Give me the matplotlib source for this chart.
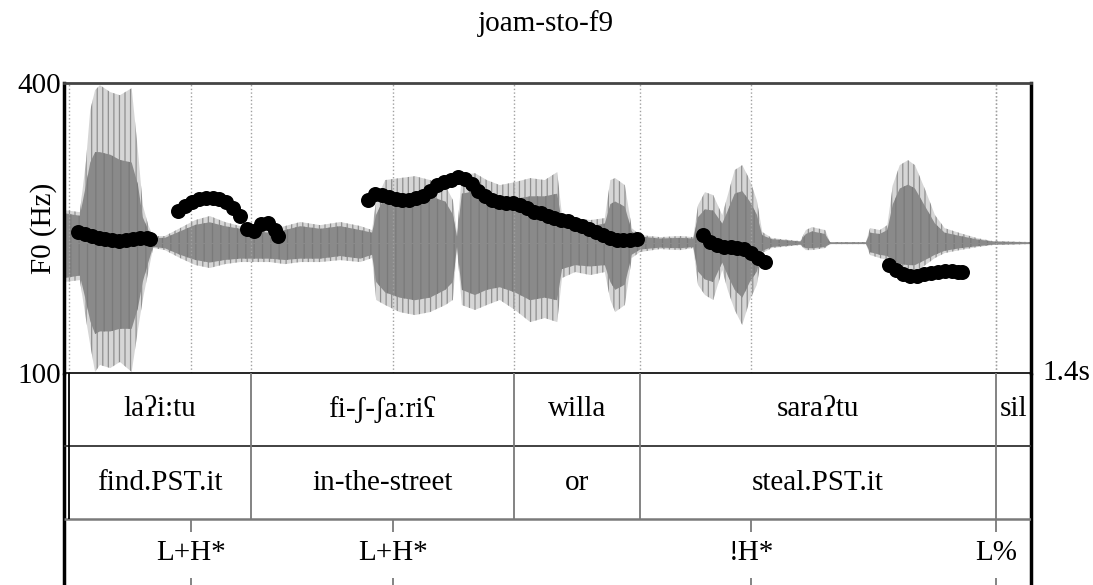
import matplotlib
matplotlib.use('Agg')
import matplotlib.pyplot as plt

plt.rcParams['font.family'] = ['Liberation Serif', 'DejaVu Serif']
plt.rcParams['hatch.linewidth'] = 0.9

W, H = 1093, 585

title = 'joam-sto-f9'
t_end = 1.4
f0_range = (100, 400)

# waveform envelope (relative amplitude)
wave_t = [0.000, 0.023, 0.032, 0.038, 0.045, 0.052, 0.067, 0.081, 0.098, 0.107,
          0.114, 0.122, 0.129, 0.146, 0.168, 0.190, 0.211, 0.233, 0.255, 0.277,
          0.298, 0.320, 0.342, 0.371, 0.400, 0.429, 0.446, 0.452, 0.465, 0.486,
          0.508, 0.530, 0.552, 0.563, 0.569, 0.576, 0.595, 0.612, 0.631, 0.653,
          0.675, 0.696, 0.714, 0.721, 0.740, 0.762, 0.783, 0.791, 0.798, 0.812,
          0.822, 0.834, 0.863, 0.892, 0.911, 0.918, 0.928, 0.940, 0.953, 0.961,
          0.971, 0.982, 0.993, 1.003, 1.011, 1.025, 1.066, 1.074, 1.083, 1.102,
          1.109, 1.161, 1.167, 1.181, 1.192, 1.200, 1.210, 1.222, 1.232, 1.247,
          1.261, 1.275, 1.297, 1.322, 1.345, 1.400]
wave_top = [0.254, 0.238, 0.638, 1.023, 1.177, 1.215, 1.162, 1.138, 1.192, 0.715,
            0.292, 0.138, 0.054, 0.054, 0.115, 0.177, 0.208, 0.162, 0.131, 0.115,
            0.100, 0.131, 0.162, 0.138, 0.162, 0.131, 0.100, 0.331, 0.485, 0.500,
            0.515, 0.485, 0.446, 0.331, 0.077, 0.523, 0.538, 0.485, 0.446, 0.469,
            0.500, 0.485, 0.546, 0.215, 0.192, 0.177, 0.192, 0.485, 0.500, 0.446,
            0.115, 0.062, 0.046, 0.054, 0.046, 0.292, 0.392, 0.369, 0.215, 0.369,
            0.562, 0.600, 0.485, 0.331, 0.085, 0.038, 0.015, 0.100, 0.123, 0.100,
            0.008, 0.008, 0.115, 0.100, 0.138, 0.446, 0.600, 0.638, 0.600, 0.408,
            0.215, 0.115, 0.077, 0.038, 0.015, 0.008]
wave_bot = [-0.300, -0.285, -0.592, -0.785, -0.992, -0.938, -0.962, -0.915, -0.992, -0.669,
            -0.438, -0.223, -0.038, -0.054, -0.115, -0.169, -0.192, -0.162, -0.146, -0.146,
            -0.146, -0.162, -0.146, -0.146, -0.131, -0.146, -0.115, -0.438, -0.477, -0.531,
            -0.554, -0.531, -0.477, -0.438, -0.038, -0.477, -0.515, -0.477, -0.438, -0.515,
            -0.608, -0.577, -0.608, -0.269, -0.223, -0.246, -0.223, -0.438, -0.531, -0.477,
            -0.115, -0.069, -0.046, -0.054, -0.038, -0.323, -0.400, -0.438, -0.208, -0.362,
            -0.515, -0.631, -0.438, -0.323, -0.077, -0.038, -0.015, -0.054, -0.054, -0.038,
            -0.008, -0.008, -0.092, -0.115, -0.131, -0.192, -0.208, -0.223, -0.223, -0.169,
            -0.115, -0.077, -0.054, -0.031, -0.015, -0.008]
core_top = [0.23, 0.21, 0.45, 0.62, 0.70, 0.70, 0.68, 0.64, 0.62, 0.45,
            0.20, 0.10, 0.04, 0.04, 0.09, 0.14, 0.16, 0.13, 0.11, 0.09,
            0.08, 0.10, 0.13, 0.11, 0.13, 0.10, 0.08, 0.22, 0.36, 0.38,
            0.38, 0.36, 0.32, 0.22, 0.05, 0.38, 0.40, 0.36, 0.34, 0.34,
            0.36, 0.36, 0.38, 0.16, 0.15, 0.13, 0.15, 0.30, 0.32, 0.28,
            0.09, 0.05, 0.035, 0.04, 0.035, 0.20, 0.26, 0.25, 0.15, 0.25,
            0.38, 0.40, 0.32, 0.22, 0.06, 0.03, 0.012, 0.07, 0.09, 0.07,
            0.006, 0.006, 0.08, 0.07, 0.10, 0.30, 0.42, 0.45, 0.42, 0.28,
            0.15, 0.08, 0.055, 0.028, 0.012, 0.006]
core_bot = [-0.27, -0.25, -0.45, -0.60, -0.70, -0.68, -0.68, -0.66, -0.66, -0.50,
            -0.30, -0.15, -0.03, -0.04, -0.09, -0.13, -0.15, -0.13, -0.12, -0.12,
            -0.12, -0.13, -0.12, -0.12, -0.10, -0.12, -0.09, -0.30, -0.38, -0.42,
            -0.44, -0.42, -0.36, -0.30, -0.03, -0.36, -0.40, -0.36, -0.34, -0.38,
            -0.44, -0.42, -0.44, -0.20, -0.17, -0.18, -0.17, -0.30, -0.36, -0.32,
            -0.09, -0.05, -0.035, -0.04, -0.03, -0.22, -0.28, -0.30, -0.15, -0.25,
            -0.36, -0.42, -0.30, -0.22, -0.06, -0.03, -0.012, -0.04, -0.04, -0.03,
            -0.006, -0.006, -0.07, -0.09, -0.10, -0.14, -0.16, -0.17, -0.17, -0.13,
            -0.09, -0.06, -0.04, -0.024, -0.012, -0.006]

# F0 contour (Hz), one list per voiced stretch
pitch_t = [
    [0.02, 0.03, 0.04, 0.05, 0.06, 0.07, 0.08, 0.09, 0.10, 0.11, 0.12, 0.125],
    [0.165, 0.175, 0.185, 0.195, 0.205, 0.215, 0.225, 0.235, 0.245, 0.255,
     0.265, 0.275, 0.285, 0.295, 0.305, 0.310],
    [0.44, 0.45, 0.46, 0.47, 0.48, 0.49, 0.50, 0.51, 0.52, 0.53,
     0.54, 0.55, 0.56, 0.57, 0.58, 0.59, 0.60, 0.61, 0.62, 0.63,
     0.64, 0.65, 0.66, 0.67, 0.68, 0.69, 0.70, 0.71, 0.72, 0.73,
     0.74, 0.75, 0.76, 0.77, 0.78, 0.79, 0.80, 0.81, 0.82, 0.83],
    [0.925, 0.935, 0.945, 0.955, 0.965, 0.975, 0.985, 0.995, 1.005, 1.015],
    [1.195, 1.205, 1.215, 1.225, 1.235, 1.245, 1.255, 1.265, 1.275, 1.285, 1.295, 1.300],
]
pitch_hz = [
    [246, 244, 242, 240, 239, 238, 237, 238, 239, 240, 240, 239],
    [268, 273, 277, 280, 281, 281, 280, 277, 271, 262, 249, 247, 254, 255, 248, 242],
    [279, 285, 284, 282, 280, 279, 279, 281, 283, 288,
     294, 298, 300, 303, 301, 295, 288, 283, 279, 277,
     276, 276, 274, 271, 267, 265, 262, 260, 258, 257,
     254, 252, 249, 246, 243, 240, 238, 238, 238, 239],
    [243, 236, 232, 230, 230, 229, 228, 224, 219, 215],
    [212, 207, 202, 200, 200, 202, 203, 205, 206, 206, 205, 205],
]

# TextGrid tiers
word_bounds = [0.007, 0.271, 0.652, 0.834, 1.349, 1.4]
words = ['laʔi:tu', 'fi-ʃ-ʃaːriʕ', 'willa', 'saraʔtu', 'sil']
glosses = ['find.PST.it', 'in-the-street', 'or', 'steal.PST.it', '']
tone_times = [0.184, 0.476, 0.995, 1.349]
tones = ['L+H*', 'L+H*', '!H*', 'L%']

fs = 21
pos = [64 / W, 1 - 373 / H, 967 / W, 290 / H]

fig = plt.figure(figsize=(W / 100, H / 100), dpi=100)

# waveform underneath
axw = fig.add_axes(pos)
axw.set_xlim(0, t_end)
axw.set_ylim(-1.0, 1.232)
axw.axis('off')
axw.fill_between(wave_t, wave_bot, wave_top, facecolor='#d6d6d6',
                 edgecolor='#8f8f8f', hatch='|||', lw=0)
axw.fill_between(wave_t, core_bot, core_top, facecolor='#8a8a8a',
                 edgecolor='#7a7a7a', hatch='||', lw=0)
axw.axhline(0, color='#8a8a8a', lw=0.8)

# pitch on top
ax = fig.add_axes(pos, facecolor='none')
ax.set_xlim(0, t_end)
ax.set_ylim(*f0_range)
ax.vlines(word_bounds[:-1] + tone_times, f0_range[0], f0_range[1],
          colors='#a0a0a0', linestyles=':', lw=1)
for t, f in zip(pitch_t, pitch_hz):
    ax.plot(t, f, 'o', color='black', ms=10.8, mew=0, zorder=3)
ax.set_xticks([])
ax.set_yticks(list(f0_range))
ax.tick_params(axis='y', length=0, pad=2, labelsize=fs)
for side in ['left', 'right']:
    ax.spines[side].set_linewidth(2.5)
ax.spines['top'].set_linewidth(2)
ax.spines['top'].set_color('#444444')
ax.spines['bottom'].set_linewidth(1.2)

fig.text(44 / W, 1 - 228 / H, 'F0 (Hz)', rotation=90, ha='center', va='center', fontsize=fs)
fig.text(1042 / W, 1 - 373 / H, '1.4s', ha='left', va='center', fontsize=fs)
fig.text(546 / W, 1 - 24 / H, title, ha='center', va='center', fontsize=fs)

# tiers
tx = fig.add_axes([64 / W, 1 - 592 / H, 967 / W, 219 / H])
tx.set_xlim(0, t_end)
tx.set_ylim(0, 3)
tx.axis('off')
tx.vlines([0, t_end], 0, 3, colors='black', lw=2.5, clip_on=False)
tx.hlines(2, 0, t_end, colors='#333333', lw=1.3)
tx.hlines(1, 0, t_end, colors='#7a7a7a', lw=1.8)
tx.vlines(word_bounds[0], 1, 3, colors='black', lw=1.3)
tx.vlines(word_bounds[1:-1], 1, 3, colors='#7a7a7a', lw=1.3)
for i in range(len(words)):
    mid = (word_bounds[i] + word_bounds[i + 1]) / 2
    tx.text(mid, 2.5, words[i], ha='center', va='center', fontsize=fs)
    tx.text(mid, 1.5, glosses[i], ha='center', va='center', fontsize=fs)
tx.vlines(tone_times, 0.82, 1, colors='#7a7a7a', lw=1.3)
tx.vlines(tone_times, 0, 0.19, colors='#7a7a7a', lw=1.3)
for t, lab in zip(tone_times, tones):
    tx.text(t, 0.53, lab, ha='center', va='center', fontsize=fs)

fig.savefig('out.png', dpi=100)
